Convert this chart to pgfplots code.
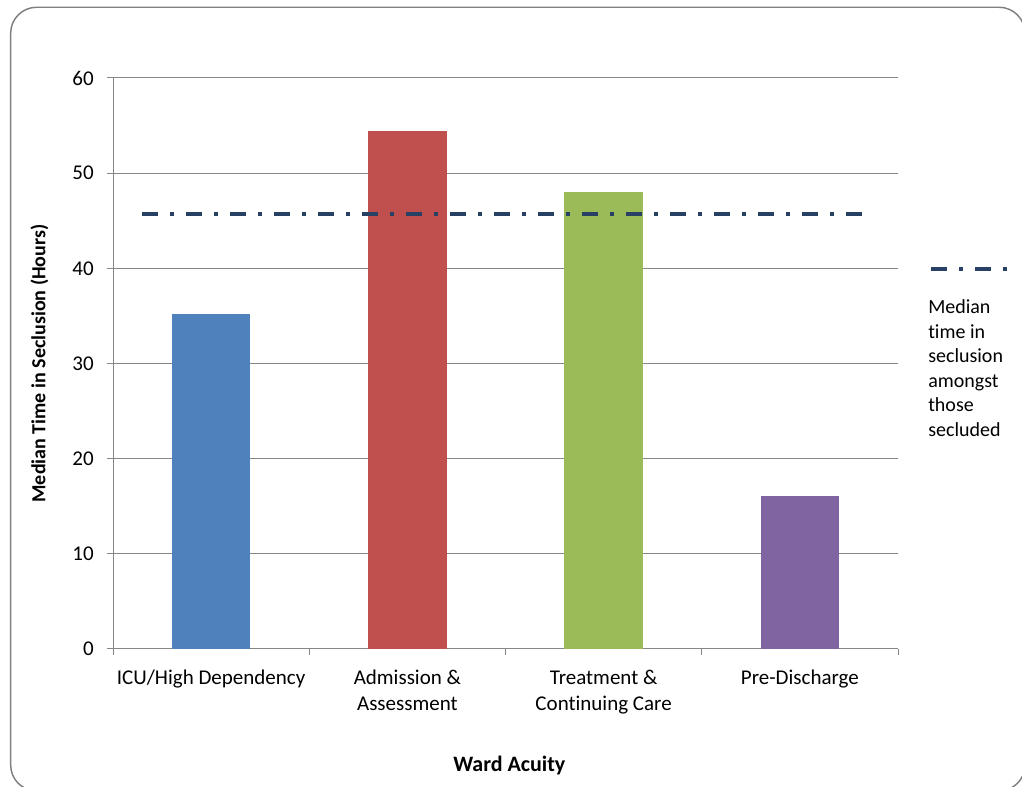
\documentclass[border=0pt]{standalone}
\usepackage{fontspec}
\setmainfont{Carlito}[Ligatures=NoCommon]
\usepackage{pgfplots}
\pgfplotsset{compat=1.18}
\definecolor{cblue}{HTML}{4F81BD}
\definecolor{cred}{HTML}{C0504D}
\definecolor{cgreen}{HTML}{9BBB59}
\definecolor{cpurple}{HTML}{8064A2}
\definecolor{cnavy}{HTML}{284064}
\definecolor{gridgray}{HTML}{868686}
\definecolor{bordergray}{HTML}{808080}
\begin{document}
\begin{tikzpicture}
\useasboundingbox (0pt,0pt) rectangle (766.5pt,590.25pt);
\begin{scope}
\clip (0pt,0pt) rectangle (766.5pt,590.25pt);
\draw[bordergray, line width=1.1pt, rounded corners=19.5pt] (8pt,584.8pt) rectangle (768.75pt,-3pt);
\end{scope}
\begin{axis}[
  at={(84.75pt,103.5pt)}, anchor=south west,
  scale only axis, width=588.75pt, height=428.25pt,
  xmin=-0.5, xmax=3.5, ymin=0, ymax=60,
  ytick={0,10,...,60}, xtick={0,1,2,3},
  xticklabels={ICU/High Dependency, Admission \&\\Assessment, Treatment \&\\Continuing Care, Pre-Discharge},
  minor xtick={-0.5,0.5,1.5,2.5,3.5},
  axis lines=left,
  axis line style={draw=gridgray, line width=0.75pt, -},
  ymajorgrids, grid style={draw=gridgray, line width=0.75pt},
  tick align=outside,
  major tick length=4.5pt, minor tick length=4.5pt,
  tick style={draw=gridgray, line width=0.75pt},
  major x tick style={draw=none},
  xticklabel style={align=center, anchor=north, inner sep=0pt, yshift=-11.25pt, font=\fontsize{15.75}{19.5}\selectfont},
  yticklabel style={anchor=east, inner sep=0pt, xshift=-9.75pt, font=\fontsize{15.75}{18}\selectfont},
  /pgf/number format/assume math mode=true,
]
\addplot[ybar, bar shift=0pt, bar width=58.9pt, fill=cblue, draw=none] coordinates {(0,35.2)};
\addplot[ybar, bar shift=0pt, bar width=58.9pt, fill=cred, draw=none] coordinates {(1,54.4)};
\addplot[ybar, bar shift=0pt, bar width=58.9pt, fill=cgreen, draw=none] coordinates {(2,48.0)};
\addplot[ybar, bar shift=0pt, bar width=58.9pt, fill=cpurple, draw=none] coordinates {(3,16.1)};
\addplot[cnavy, line width=2.6pt, dash pattern=on 12pt off 9pt on 3pt off 9pt] coordinates {(-0.352,45.7) (3.317,45.7)};
\end{axis}
\node[rotate=90, anchor=base, inner sep=0pt, font=\fontsize{15}{18}\selectfont\bfseries] at (34.1pt,317.6pt) {Median Time in Seclusion (Hours)};
\node[anchor=base, inner sep=0pt, font=\fontsize{16.5}{18}\selectfont\bfseries] at (382pt,11.25pt) {Ward Acuity};
\draw[cnavy, line width=2.6pt, dash pattern=on 12pt off 9pt on 3pt off 9pt] (698.25pt,388.5pt) -- (756pt,388.5pt);
\foreach \t/\y in {Median/354.75pt, time in/336.4pt, seclusion/318pt, amongst/299.6pt, those/281.25pt, secluded/262.9pt}{
  \node[anchor=base west, inner sep=0pt, font=\fontsize{15}{18}\selectfont] at (696pt,\y) {\t};
}
\end{tikzpicture}
\end{document}
